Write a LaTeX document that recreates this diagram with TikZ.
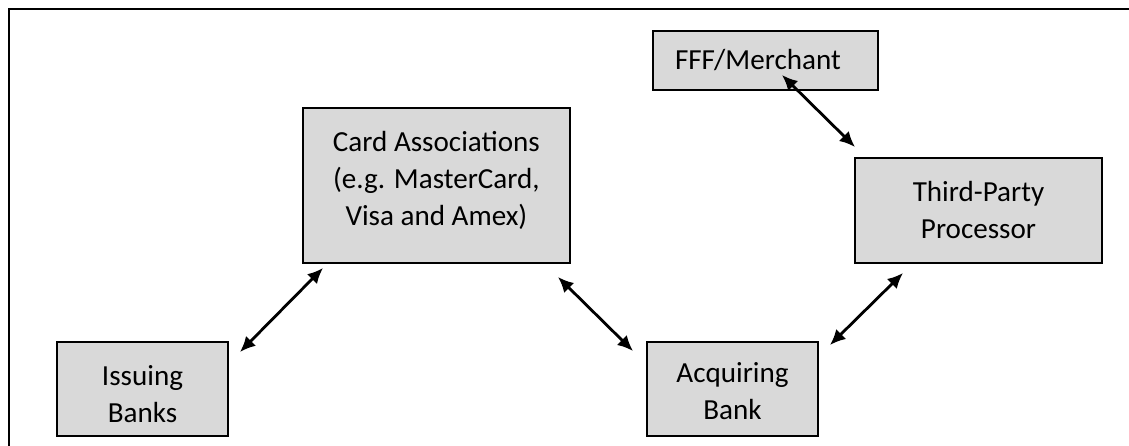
\documentclass[tikz,border=0pt]{standalone}
\usepackage{fontspec}
\setmainfont{Carlito}
\usepackage{tikz}
\usetikzlibrary{positioning}
\usetikzlibrary{arrows.meta}

\tikzset{
  partybox/.style={draw=black, line width=0.9pt, fill=gray!30, align=center,
    inner sep=0pt, font=\fontsize{20.7}{26.3}\selectfont},
  linkarrow/.style={{Latex[length=11pt,width=10pt]}-{Latex[length=11pt,width=10pt]}, line width=2pt}
}

\begin{document}
\begin{tikzpicture}
\useasboundingbox (0,0) rectangle (28.225,-11.15);
%outer frame, cut at right and bottom
\draw[line width=2pt] (0.225,-11.15)--(0.225,-0.225)--(28.225,-0.225);

\node[partybox, minimum width=6.675cm, minimum height=3.875cm] (cards) at (10.91,-4.64) {Card Associations\\(e.g. MasterCard,\\Visa and Amex)\\[-0.575cm]};
\node[partybox, minimum width=4.275cm, minimum height=2.35cm] (issuing) at (3.5625,-9.725) {\\[-0.175cm]Issuing\\Banks};
\node[partybox, minimum width=4.275cm, minimum height=2.35cm] (acquiring) at (18.3125,-9.725) {\\[-0.325cm]Acquiring\\Bank};
\node[partybox, minimum width=6.175cm, minimum height=2.625cm] (processor) at (24.4625,-5.26) {Third-Party\\Processor};
\node[partybox, align=left, text width=4.525cm, inner xsep=0.55cm, minimum height=1.475cm] (merchant) at (19.1375,-1.51) {FFF/Merchant};

\coordinate (iss end) at (6.0,-8.8);
\coordinate (card sw) at (8.075,-6.7);
\coordinate (card se) at (13.95,-6.925);
\coordinate (acq nw) at (15.825,-8.775);
\coordinate (acq ne) at (20.75,-8.625);
\coordinate (proc sw) at (22.575,-6.825);
\coordinate (merch s) at (19.55,-1.875);
\coordinate (proc nw) at (21.375,-3.675);

\draw[linkarrow] (iss end)--(card sw);
\draw[linkarrow] (card se)--(acq nw);
\draw[linkarrow] (acq ne)--(proc sw);
\draw[linkarrow] (merch s)--(proc nw);
\end{tikzpicture}
\end{document}
